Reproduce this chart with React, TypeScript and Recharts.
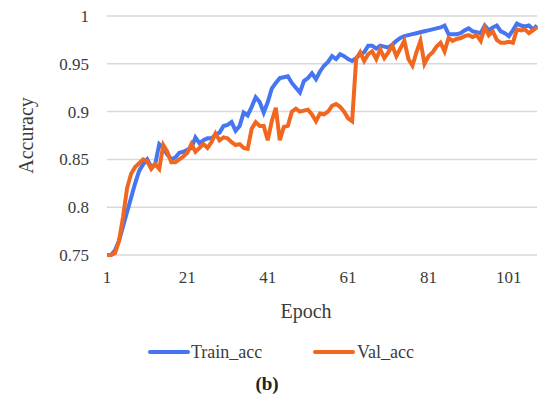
import React from 'react';
import { LineChart, Line, XAxis, YAxis, CartesianGrid, Legend } from 'recharts';

// accuracy per epoch (epochs 1..108)
const trainAcc = [
  0.75, 0.75, 0.755, 0.765, 0.78, 0.795, 0.81, 0.825, 0.838, 0.845,
  0.85, 0.842, 0.845, 0.866, 0.862, 0.855, 0.85, 0.852, 0.857, 0.858,
  0.86, 0.862, 0.873, 0.867, 0.87, 0.872, 0.872, 0.876, 0.878, 0.885,
  0.886, 0.889, 0.88, 0.885, 0.899, 0.896, 0.905, 0.915, 0.91, 0.899,
  0.91, 0.924, 0.93, 0.935, 0.936, 0.937, 0.93, 0.925, 0.92, 0.932,
  0.935, 0.94, 0.934, 0.942, 0.948, 0.952, 0.958, 0.955, 0.96, 0.958,
  0.955, 0.953, 0.956, 0.96, 0.962, 0.969, 0.969, 0.966, 0.969, 0.968,
  0.967, 0.97, 0.974, 0.977, 0.979, 0.98, 0.981, 0.982, 0.983, 0.984,
  0.985, 0.986, 0.987, 0.988, 0.99, 0.981, 0.981, 0.981, 0.982, 0.985,
  0.987, 0.984, 0.983, 0.982, 0.99, 0.985, 0.988, 0.99, 0.984, 0.982,
  0.979, 0.985, 0.992, 0.99, 0.989, 0.99, 0.986, 0.99,
];

const valAcc = [
  0.75, 0.75, 0.752, 0.765, 0.79, 0.82, 0.835, 0.842, 0.846, 0.85,
  0.848, 0.84, 0.845, 0.84, 0.865, 0.858, 0.847, 0.847, 0.85, 0.853,
  0.857, 0.866, 0.858, 0.862, 0.866, 0.862, 0.868, 0.877, 0.87, 0.873,
  0.872, 0.868, 0.865, 0.866, 0.862, 0.861, 0.882, 0.889, 0.885, 0.885,
  0.87, 0.89, 0.904, 0.87, 0.884, 0.885, 0.9, 0.903, 0.9, 0.901,
  0.902, 0.897, 0.89, 0.898, 0.897, 0.9, 0.906, 0.908, 0.905, 0.9,
  0.893, 0.89, 0.955, 0.962, 0.953, 0.96, 0.963, 0.955, 0.965, 0.956,
  0.962, 0.969, 0.958, 0.966, 0.974, 0.955, 0.948, 0.962, 0.974, 0.95,
  0.958, 0.962, 0.968, 0.972, 0.963, 0.977, 0.974, 0.976, 0.977, 0.979,
  0.98, 0.978, 0.98, 0.974, 0.988, 0.98, 0.984, 0.975, 0.972, 0.972,
  0.973, 0.972, 0.986, 0.985, 0.986, 0.982, 0.985, 0.988,
];

const epochTicks = [1, 21, 41, 61, 81, 101];
const accTicks = [0.75, 0.8, 0.85, 0.9, 0.95, 1];

const data = trainAcc.map((v, i) => ({ epoch: i + 1, train: v, val: valAcc[i] }));

const FONT = '"Liberation Serif", "Times New Roman", serif';
const TEXT = '#3b3b3b';
const BLUE = '#4675f2';
const ORANGE = '#f2671f';

const LegendBox = () => (
  <div style={{ position: 'relative', width: 550, height: 58, fontFamily: FONT, color: TEXT }}>
    <div style={{ position: 'absolute', left: 148, top: 10, width: 42, height: 4, borderRadius: 2, background: BLUE }} />
    <div style={{ position: 'absolute', left: 191, top: 0, fontSize: 18, lineHeight: '24px' }}>Train_acc</div>
    <div style={{ position: 'absolute', left: 313, top: 10, width: 42, height: 4, borderRadius: 2, background: ORANGE }} />
    <div style={{ position: 'absolute', left: 357, top: 0, fontSize: 18, lineHeight: '24px' }}>Val_acc</div>
    <div style={{ position: 'absolute', left: 0, width: 534, top: 32, fontSize: 19, lineHeight: '24px', fontWeight: 'bold', textAlign: 'center', color: '#222' }}>
      (b)
    </div>
  </div>
);

export default function App() {
  return (
    <div style={{ position: 'absolute', left: 0, top: 0, background: '#fff' }}>
      <LineChart width={550} height={403} data={data} margin={{ top: 16, right: 13, left: 0, bottom: 5 }}>
        <CartesianGrid vertical={false} stroke="#d9d9d9" strokeWidth={1.5} />
        <XAxis
          dataKey="epoch"
          type="number"
          domain={[1, 108]}
          ticks={epochTicks}
          axisLine={false}
          tickLine={false}
          height={85}
          tickMargin={10}
          tick={{ fill: TEXT, fontSize: 17, fontFamily: FONT }}
          label={{ value: 'Epoch', position: 'insideTop', dy: 44, dx: -16, fill: TEXT, fontSize: 20, fontFamily: FONT }}
        />
        <YAxis
          type="number"
          domain={[0.75, 1]}
          ticks={accTicks}
          width={107}
          axisLine={false}
          tickLine={false}
          tickMargin={12}
          tickFormatter={(v: number) => String(v)}
          tick={{ fill: TEXT, fontSize: 17, fontFamily: FONT }}
          label={{ value: 'Accuracy', angle: -90, position: 'center', dx: -28, fill: TEXT, fontSize: 20, fontFamily: FONT }}
        />
        <Legend verticalAlign="bottom" content={() => <LegendBox />} wrapperStyle={{ left: 0, width: 550, bottom: 5 }} />
        <Line type="linear" dataKey="train" name="Train_acc" stroke={BLUE} strokeWidth={4} dot={false} isAnimationActive={false} />
        <Line type="linear" dataKey="val" name="Val_acc" stroke={ORANGE} strokeWidth={4} dot={false} isAnimationActive={false} />
      </LineChart>
    </div>
  );
}
